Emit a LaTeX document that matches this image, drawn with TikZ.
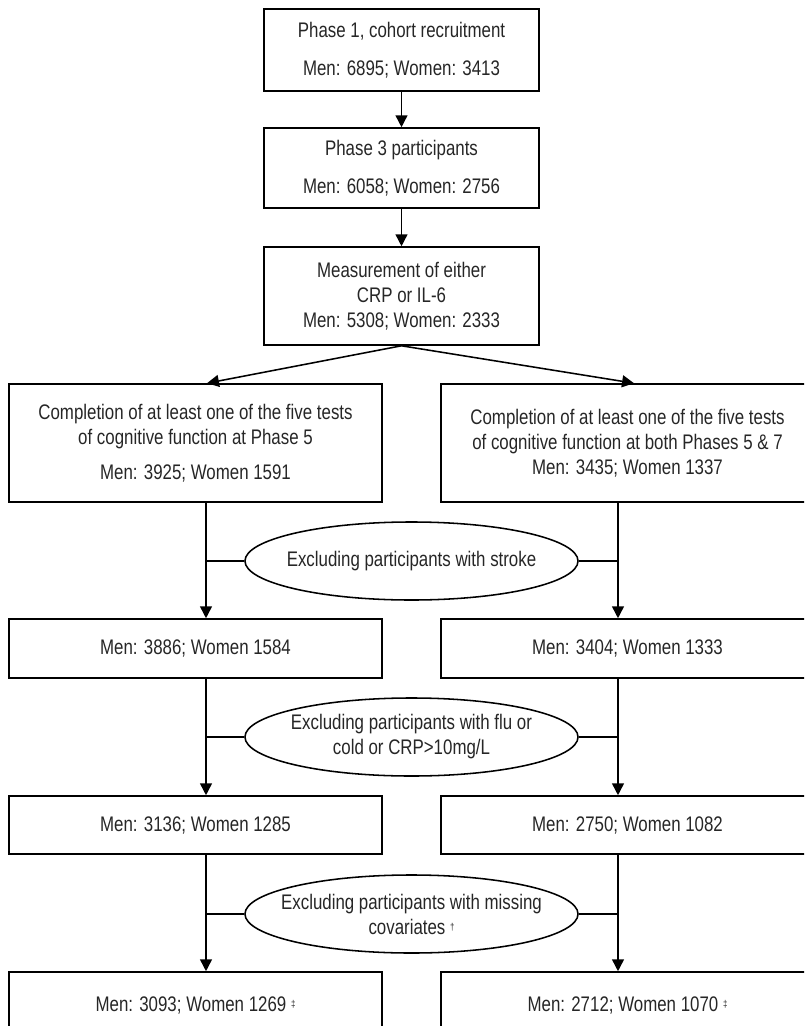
\documentclass[tikz,border=0pt]{standalone}
\usepackage{fontspec}
\setmainfont{Liberation Sans}[FakeStretch=0.8]
\usetikzlibrary{arrows.meta,shapes.geometric}

\newcommand{\dagmark}[1]{\raisebox{0.35ex}{\scriptsize #1}}

\begin{document}
\begin{tikzpicture}[x=0.025cm,y=-0.025cm,>={Triangle[width=8.5pt,length=8.5pt]},line width=1.1pt,font=\fontsize{15pt}{17.8pt}\selectfont,every node/.style={text=black!85},box/.style={draw,rectangle,align=center,inner sep=0pt,minimum width=6.875cm},wide box/.style={draw,rectangle,align=center,inner sep=0pt,minimum width=9.325cm},exclusion/.style={draw,ellipse,align=center,inner xsep=-12pt,inner ysep=0pt,minimum width=8.325cm,minimum height=1.95cm}]
\clip (0,0) rectangle (804,1026);
\node[box,minimum height=2.05cm] (p_1) at (401.5,50) {Phase 1, cohort recruitment\\[9pt] Men: 6895; Women: 3413};
        \node[box,minimum height=2cm] (p_3) at (401.5,168) {Phase 3 participants\\[9pt] Men: 6058; Women: 2756};
        \node[box,minimum height=2.45cm] (crp) at (401.5,296) {Measurement of either\\ CRP or IL-6\\ Men: 5308; Women: 2333};
        \node[wide box,minimum height=2.95cm] (l_5) at (195.5,443) {Completion of at least one of the five tests\\ of cognitive function at Phase 5\\[7pt] Men: 3925; Women 1591};
        \node[wide box,minimum height=2.95cm] (r_57) at (627.5,443) {Completion of at least one of the five tests\\ of cognitive function at both Phases 5 \& 7\\ Men: 3435; Women 1337};
        \node[exclusion] (x_stroke) at (411.5,561) {Excluding participants with stroke};
        \node[wide box,minimum height=1.475cm] (l_stroke) at (195.5,648.5) {Men: 3886; Women 1584};
        \node[wide box,minimum height=1.475cm] (r_stroke) at (627.5,648.5) {Men: 3404; Women 1333};
        \node[exclusion] (x_flu) at (411.5,737) {Excluding participants with flu or\\ cold or CRP>10mg/L};
        \node[wide box,minimum height=1.45cm] (l_flu) at (195.5,825) {Men: 3136; Women 1285};
        \node[wide box,minimum height=1.45cm] (r_flu) at (627.5,825) {Men: 2750; Women 1082};
        \node[exclusion] (x_cov) at (411.5,914) {Excluding participants with missing\\ covariates \dagmark{†}};
        \node[wide box,minimum height=1.65cm] (l_cov) at (195.5,1005) {Men: 3093; Women 1269 \dagmark{‡}};
        \node[wide box,minimum height=1.65cm] (r_cov) at (627.5,1005) {Men: 2712; Women 1070 \dagmark{‡}};
        % columns of the two arms
        \coordinate (left) at (206,0);
        \coordinate (right) at (618,0);
        \coordinate (left tip) at (207,0);
        \coordinate (right tip) at (634,0);
        \path[->]
            (p_1) edge (p_3)
            (p_3) edge (crp)
            (crp.south) edge (l_5.north -| left tip)
                        edge (r_57.north -| right tip)
            (l_5.south -| left) edge (l_stroke.north -| left)
            (r_57.south -| right) edge (r_stroke.north -| right)
            (l_stroke.south -| left) edge (l_flu.north -| left)
            (r_stroke.south -| right) edge (r_flu.north -| right)
            (l_flu.south -| left) edge (l_cov.north -| left)
            (r_flu.south -| right) edge (r_cov.north -| right);
        \path
            (x_stroke) edge (x_stroke.west -| left)
                       edge (x_stroke.east -| right)
            (x_flu) edge (x_flu.west -| left)
                    edge (x_flu.east -| right)
            (x_cov) edge (x_cov.west -| left)
                    edge (x_cov.east -| right);
\end{tikzpicture}
\end{document}
